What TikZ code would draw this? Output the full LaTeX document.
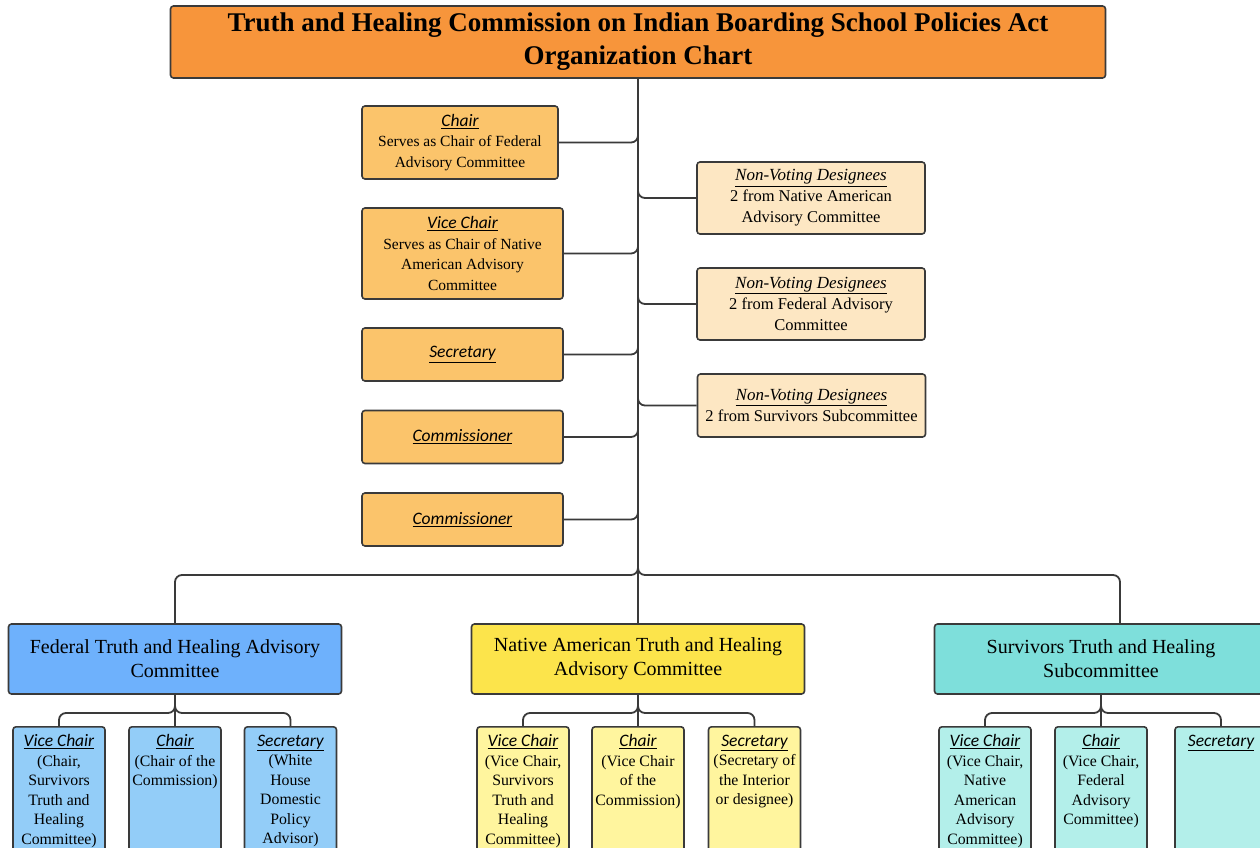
\documentclass[tikz,border=0pt]{standalone}
\usepackage{fontspec}
\setmainfont{Liberation Serif}
\newfontfamily\rolefont{Carlito}

\definecolor{linegray}{HTML}{3A3A3A}
\definecolor{titleorange}{HTML}{F7953B}
\definecolor{memberorange}{HTML}{FBC46B}
\definecolor{nvdpale}{HTML}{FDE7C3}
\definecolor{fedblue}{HTML}{6EB1FC}
\definecolor{fedlight}{HTML}{93CDF8}
\definecolor{natyellow}{HTML}{FCE44B}
\definecolor{natlight}{HTML}{FFF59E}
\definecolor{survteal}{HTML}{7EDFDB}
\definecolor{survlight}{HTML}{B3EFEA}

\newcommand{\role}[1]{\underline{\rolefont\itshape\fontsize{17.5}{21}\selectfont #1}}
\newcommand{\nvd}{\underline{\itshape\fontsize{17}{21}\selectfont Non-Voting Designees}}
\newcommand{\cell}[1]{\parbox[t][118pt][t]{90pt}{\centering #1}}

\tikzset{
  box/.style={draw=linegray, line width=1.6pt, rounded corners=3pt, align=center, inner sep=2pt},
  titlebox/.style={box, fill=titleorange, minimum width=935pt, minimum height=72pt,
    font=\fontsize{27}{33}\selectfont\bfseries},
  member/.style={box, fill=memberorange, minimum width=201pt, font=\fontsize{15.5}{20.5}\selectfont},
  designee/.style={box, fill=nvdpale, minimum width=228pt, font=\fontsize{16.5}{21}\selectfont},
  committee/.style={box, minimum width=333pt, minimum height=70pt, font=\fontsize{20}{24}\selectfont},
  subbox/.style={box, anchor=north, minimum width=92pt, inner xsep=1pt, inner ysep=8pt,
    font=\fontsize{15.8}{19.5}\selectfont},
  link/.style={draw=linegray, line width=1.8pt, rounded corners=7pt}
}

\begin{document}
\begin{tikzpicture}[x=1pt,y=-1pt]
  \useasboundingbox (0,0) rectangle (1260,848);

  % title
  \node[titlebox] (title) at (638,42) {Truth and Healing Commission on Indian Boarding School Policies Act\\Organization Chart};

  % commission members
  \node[member, minimum width=196pt, minimum height=73pt] (chair) at (460,142.5) {\role{Chair}\\Serves as Chair of Federal\\Advisory Committee};
  \node[member, minimum height=91pt] (vicechair) at (462.5,253.5) {\role{Vice Chair}\\Serves as Chair of Native\\American Advisory\\Committee};
  \node[member, minimum height=53pt] (secretary) at (462.5,354.5) {\role{Secretary}};
  \node[member, minimum height=53pt] (comm1) at (462.5,437) {\role{Commissioner}};
  \node[member, minimum height=53pt] (comm2) at (462.5,519.5) {\role{Commissioner}};

  % non-voting designees
  \node[designee, minimum height=72pt] (nvd1) at (811,198) {\nvd\\2 from Native American\\Advisory Committee};
  \node[designee, minimum height=72pt] (nvd2) at (811,304) {\nvd\\2 from Federal Advisory\\Committee};
  \node[designee, minimum height=63pt] (nvd3) at (811.5,405.5) {\nvd\\2 from Survivors Subcommittee};

  % committees
  \node[committee, fill=fedblue] (fed) at (175,659) {Federal Truth and Healing Advisory\\Committee};
  \node[committee, fill=natyellow] (nat) at (638,659) {Native American Truth and Healing\\Advisory Committee};
  \node[committee, fill=survteal] (surv) at (1101,659) {Survivors Truth and Healing\\Subcommittee};

  % committee officers
  \node[subbox, fill=fedlight] (fedvc) at (59,726) {\cell{\role{Vice Chair}\\(Chair,\\Survivors\\Truth and\\Healing\\Committee)}};
  \node[subbox, fill=fedlight] (fedch) at (175,726) {\cell{\role{Chair}\\(Chair of the\\Commission)}};
  \node[subbox, fill=fedlight] (fedsec) at (290.5,726) {\cell{\role{Secretary}\\(White\\House\\Domestic\\Policy\\Advisor)}};

  \node[subbox, fill=natlight] (natvc) at (523,726) {\cell{\role{Vice Chair}\\(Vice Chair,\\Survivors\\Truth and\\Healing\\Committee)}};
  \node[subbox, fill=natlight] (natch) at (638,726) {\cell{\role{Chair}\\(Vice Chair\\of the\\Commission)}};
  \node[subbox, fill=natlight] (natsec) at (754.5,726) {\cell{\role{Secretary}\\(Secretary of\\the Interior\\or designee)}};

  \node[subbox, fill=survlight] (survvc) at (985,726) {\cell{\role{Vice Chair}\\(Vice Chair,\\Native\\American\\Advisory\\Committee)}};
  \node[subbox, fill=survlight] (survch) at (1101,726) {\cell{\role{Chair}\\(Vice Chair,\\Federal\\Advisory\\Committee)}};
  \node[subbox, fill=survlight] (survsec) at (1221,726) {\cell{\role{Secretary}}};

  % junctions
  \coordinate (bus) at (638,575);
  \coordinate (fedj) at (175,713);
  \coordinate (natj) at (638,713);
  \coordinate (survj) at (1101,713);

  % connectors
  \draw[link] (title.south) -- (nat.north);
  \foreach \m in {chair,vicechair,secretary,comm1,comm2,nvd1,nvd2,nvd3}
    \draw[link] (\m) -| (title.south);
  \draw[link] (fed.north) |- (bus) -- (title.south);
  \draw[link] ([xshift=19pt]surv.north) |- (bus) -- (title.south);

  \foreach \c in {fed,nat,surv} {
    \draw[link] (\c vc.north) |- (\c j) -- (\c.south);
    \draw[link] (\c sec.north) |- (\c j) -- (\c.south);
    \draw[link] (\c ch.north) -- (\c.south);
  }
\end{tikzpicture}
\end{document}
